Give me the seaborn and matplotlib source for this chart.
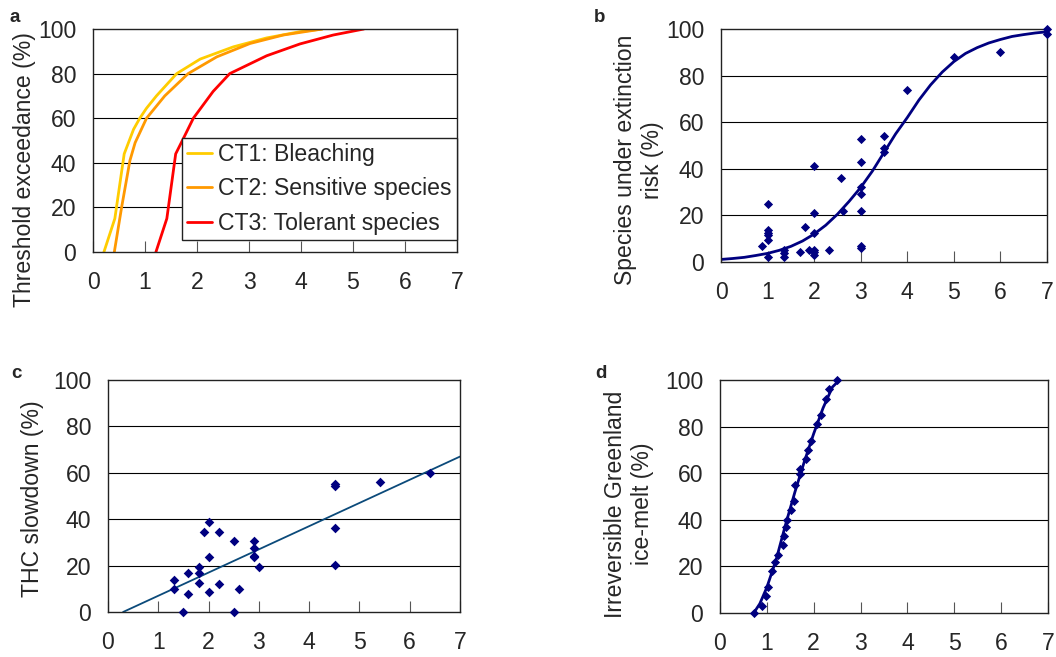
import matplotlib
matplotlib.use("Agg")
import matplotlib.pyplot as plt
import seaborn as sns
import numpy as np
import pandas as pd

# ---------------- data ----------------
# Panel a: threshold exceedance curves
ct1_x = [0.21, 0.42, 0.60, 0.78, 0.90, 1.03, 1.22, 1.61, 2.06, 2.70, 3.34, 3.98, 4.41]
ct1_y = [0, 15, 44, 55, 60, 64.5, 70, 80, 86.5, 92, 96, 98.8, 100]
ct2_x = [0.41, 0.55, 0.71, 0.81, 1.03, 1.38, 1.83, 2.38, 3.02, 3.66, 4.41]
ct2_y = [0, 20, 41, 49, 60, 70, 80, 87.5, 93.5, 97.3, 100]
ct3_x = [1.21, 1.42, 1.59, 1.74, 1.93, 2.31, 2.63, 3.34, 3.98, 4.62, 5.21]
ct3_y = [0, 15, 44, 51, 60, 72, 80, 88, 93.3, 97.3, 100]
legend_labels = ["CT1: Bleaching", "CT2: Sensitive species", "CT3: Tolerant species"]

# Panel b: species under extinction risk
b_x = [0.89, 1.0, 1.0, 1.0, 1.0, 1.0, 1.0, 1.35, 1.35, 1.35, 1.70, 1.80, 1.90,
       2.0, 2.0, 2.0, 2.0, 2.0, 2.0, 2.31, 2.58, 2.61, 3.0, 3.0, 3.0, 3.0, 3.0,
       3.0, 3.0, 3.5, 3.5, 3.5, 4.0, 5.0, 6.0, 7.0, 7.0]
b_y = [7, 25, 13.8, 12.3, 11.6, 9.5, 2.3, 5.2, 3.7, 2.3, 4.2, 15, 5.2,
       41, 21, 12.3, 5.2, 4.2, 3.0, 5.2, 36, 22, 53, 43, 32.4, 29, 22,
       7, 6.2, 54, 49, 47, 74, 88, 90, 100, 98]
b_curve_x = [0, 0.25, 0.5, 0.75, 1.0, 1.25, 1.5, 1.75, 2.0, 2.25, 2.5, 2.75, 3.0,
             3.25, 3.5, 3.75, 4.0, 4.25, 4.5, 4.75, 5.0, 5.25, 5.5, 5.75, 6.0,
             6.25, 6.5, 6.75, 7.0]
b_curve_y = [1.1, 1.5, 2.0, 2.8, 3.7, 5.0, 6.7, 9.0, 12, 15.8, 20.5, 26, 32,
             39, 47, 55, 62, 69.5, 76, 81.5, 86, 89.5, 92, 94, 95.5,
             96.8, 97.6, 98.3, 98.8]

# Panel c: THC slowdown
c_x = [1.31, 1.31, 1.50, 1.60, 1.60, 1.80, 1.80, 1.80, 1.91, 2.01, 2.01, 2.01,
       2.21, 2.21, 2.50, 2.50, 2.60, 2.90, 2.90, 2.90, 2.90, 3.0, 4.51, 4.51,
       4.51, 4.51, 5.40, 6.40]
c_y = [14, 9.9, 0, 16.6, 7.7, 19.4, 16.6, 12.6, 34.4, 38.6, 23.5, 8.5,
       34.3, 12.2, 30.8, 0, 9.9, 30.4, 27.4, 24.2, 23.5, 19.4, 55.2, 54.5,
       36.4, 20.1, 56.1, 60.1]
c_line_x = [0.30, 7.0]
c_line_y = [0, 67.0]

# Panel d: irreversible Greenland ice-melt
d_x = [0.72, 0.89, 0.98, 1.02, 1.10, 1.17, 1.24, 1.35, 1.37, 1.40, 1.44, 1.51,
       1.58, 1.60, 1.71, 1.71, 1.83, 1.88, 1.94, 2.08, 2.15, 2.26, 2.33, 2.50]
d_y = [0, 3, 7.2, 11.2, 18, 22, 25, 29, 33, 37, 40, 44,
       48, 55, 59.5, 62, 66, 70, 74, 81, 85, 92, 96, 100]
d_line_x = [0.72, 0.85, 1.0, 1.2, 1.4, 1.6, 1.8, 2.0, 2.2, 2.4, 2.6]
d_line_y = [0, 4, 11, 23, 38, 52, 65, 77, 88, 97, 101]

y_ticks = [0, 20, 40, 60, 80, 100]
x_ticks = [0, 1, 2, 3, 4, 5, 6, 7]

# ---------------- style ----------------
sns.set_theme(style="white")
plt.rcParams['font.family'] = ['Liberation Sans', 'DejaVu Sans']
FS = 16.6

fig = plt.figure(figsize=(10.56, 6.57), dpi=100)
W, H = 1056, 657

def add_ax(l, r, t, b):
    return fig.add_axes([l / W, 1 - b / H, (r - l) / W, (b - t) / H])

ax_a = add_ax(93, 457, 29, 252)
ax_b = add_ax(721, 1047, 29, 262)
ax_c = add_ax(108, 460, 380, 612)
ax_d = add_ax(720, 1048, 380, 613)

def style(ax, ylabel, label_xy):
    ax.set_xlim(0, 7)
    ax.set_ylim(0, 100)
    ax.set_xticks(x_ticks)
    ax.set_yticks(y_ticks)
    ax.set_xticklabels([str(v) for v in x_ticks], fontsize=FS)
    ax.set_yticklabels([str(v) for v in y_ticks], fontsize=FS)
    ax.tick_params(axis='x', direction='in', length=8, width=0.8, color='#555555',
                   pad=14, bottom=True)
    ax.tick_params(axis='y', length=0, pad=12, left=True)
    for v in [20, 40, 60, 80]:
        ax.axhline(v, color='black', lw=0.8, zorder=0.5)
    for s in ax.spines.values():
        s.set_color('#222222')
        s.set_linewidth(1.0)
    ax.set_xlabel("")
    ax.set_ylabel(ylabel, fontsize=FS, linespacing=1.2, ha='center', va='center')
    ax.yaxis.set_label_coords(*label_xy)
    ax.set_facecolor('white')

# Panel a
colors_a = ['#FFCC00', '#FF9900', '#FF0000']
for xs, ys, col, lab in zip([ct1_x, ct2_x, ct3_x], [ct1_y, ct2_y, ct3_y], colors_a, legend_labels):
    sns.lineplot(x=xs, y=ys, ax=ax_a, color=col, lw=2.0, sort=False, label=lab)
style(ax_a, "Threshold exceedance (%)", ((25 - 93) / 364, (252 - 170) / 223))
leg = ax_a.legend(loc='lower right', bbox_to_anchor=(1.0, 0.054), fontsize=FS,
                  frameon=True, fancybox=False, edgecolor='#222222', framealpha=1,
                  handlelength=1.05, handletextpad=0.3, labelspacing=0.5,
                  borderpad=0.22, borderaxespad=0.0)
leg.get_frame().set_linewidth(1.0)

# Panel b
sns.lineplot(x=b_curve_x, y=b_curve_y, ax=ax_b, color='#000080', lw=2.0, sort=False)
sns.scatterplot(x=b_x, y=b_y, ax=ax_b, marker='D', color='#000080', s=22,
                edgecolor='#000080', linewidth=0, zorder=3, clip_on=False)
style(ax_b, "Species under extinction\nrisk (%)", ((639 - 721) / 326, (262 - 160) / 233))

# Panel c
sns.lineplot(x=c_line_x, y=c_line_y, ax=ax_c, color='#0B4A7A', lw=1.3, sort=False)
sns.scatterplot(x=c_x, y=c_y, ax=ax_c, marker='D', color='#000080', s=24,
                edgecolor='#000080', linewidth=0, zorder=3, clip_on=False)
style(ax_c, "THC slowdown (%)", ((33 - 108) / 352, (612 - 499) / 232))

# Panel d
sns.lineplot(x=d_line_x, y=d_line_y, ax=ax_d, color='#000080', lw=2.0, sort=False)
sns.scatterplot(x=d_x, y=d_y, ax=ax_d, marker='D', color='#000080', s=22,
                edgecolor='#000080', linewidth=0, zorder=3, clip_on=False)
style(ax_d, "Irreversible Greenland\nice-melt (%)", ((629 - 720) / 328, (613 - 504) / 233))

# panel letters
for lab, (px, py) in zip("abcd", [(15, 18), (600, 18), (16, 373), (601, 373)]):
    fig.text(px / W, 1 - py / H, lab, fontsize=13.5, fontweight='bold',
             ha='center', va='center')

fig.savefig("out.png", dpi=100)
